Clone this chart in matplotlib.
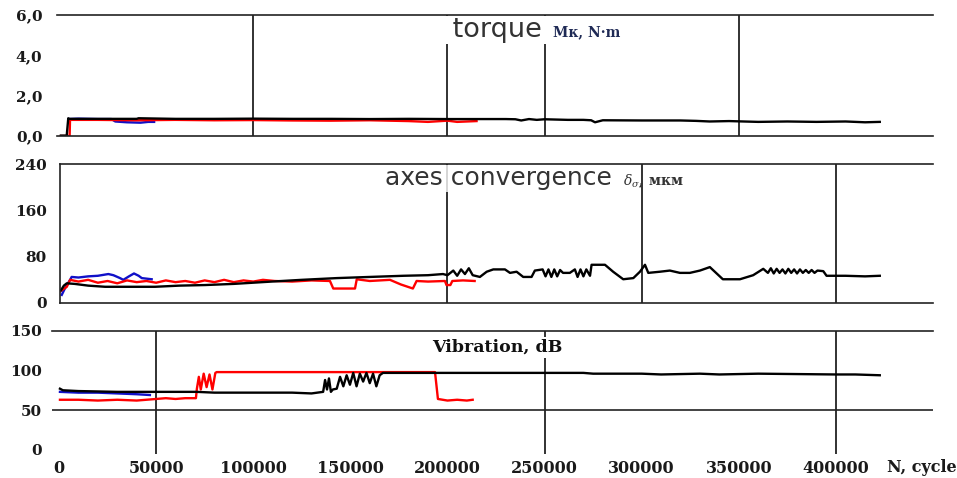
import matplotlib
matplotlib.use('Agg')
import matplotlib.pyplot as plt

plt.rcParams['mathtext.fontset'] = 'dejavuserif'

W, H = 957, 478

# --- torque, N*m ---
torque_black_x = [1000, 4000, 4800, 5000, 20000, 40000, 41000, 60000, 80000, 100000, 120000, 140000,
                  160000, 180000, 200000, 220000, 230000, 235000, 238000, 242000, 246000, 250000,
                  262000, 270000, 274000, 276000, 280000, 300000, 320000, 328000, 335000, 345000,
                  360000, 375000, 390000, 405000, 415000, 422600]
torque_black_y = [0.02, 0.02, 0.88, 0.85, 0.85, 0.85, 0.88, 0.85, 0.85, 0.86, 0.85, 0.85,
                  0.84, 0.85, 0.84, 0.84, 0.84, 0.83, 0.77, 0.84, 0.80, 0.83,
                  0.80, 0.80, 0.78, 0.68, 0.78, 0.77, 0.77, 0.75, 0.72, 0.74,
                  0.70, 0.72, 0.70, 0.72, 0.68, 0.70]
torque_red_x = [1000, 5500, 5700, 20000, 40000, 60000, 80000, 100000, 120000, 140000, 160000,
                180000, 190000, 200000, 205000, 210000, 215000]
torque_red_y = [0.0, 0.0, 0.80, 0.80, 0.78, 0.80, 0.78, 0.79, 0.77, 0.76, 0.78,
                0.74, 0.70, 0.76, 0.70, 0.72, 0.74]
torque_blue_x = [5000, 10000, 20000, 27000, 29000, 35000, 42000, 46000, 49000]
torque_blue_y = [0.84, 0.86, 0.84, 0.84, 0.72, 0.68, 0.66, 0.70, 0.70]

# --- axes convergence, mkm ---
conv_black_x = [1000, 2500, 4000, 8000, 15000, 23700, 35000, 49400, 62000, 75200, 90000, 109500,
                125000, 143000, 160000, 177300, 190000, 197700, 200000, 203000, 205000, 207000,
                209000, 211000, 213000, 216700, 220200, 223600, 229600, 232200, 235600, 239000,
                243300, 245000, 249000, 250500, 252000, 253500, 255000, 256500, 258000, 259500,
                263000, 265600, 267000, 268500, 270000, 271500, 273400, 274200, 281100, 285300,
                290500, 295700, 299100, 301700, 303400, 309400, 314500, 319700, 324800, 330000,
                335100, 341800, 350600, 357400, 362600, 365000, 366500, 368000, 369500, 371000,
                372500, 374000, 375500, 377000, 378500, 380000, 381500, 383000, 384500, 386000,
                387500, 389000, 390500, 393500, 395200, 405000, 415000, 422600]
conv_black_y = [22, 30, 34, 33, 30, 28, 28, 28, 30, 31, 33, 37,
                40, 43, 45, 47, 48, 50, 48, 56, 47, 58,
                50, 60, 48, 45, 54, 58, 58, 52, 54, 45,
                45, 56, 58, 46, 58, 45, 58, 46, 57, 52,
                52, 58, 45, 58, 46, 58, 47, 66, 66, 54,
                41, 43, 54, 66, 52, 54, 56, 52, 52, 56,
                62, 41, 41, 48, 59, 52, 60, 51, 59, 52,
                58, 51, 59, 52, 58, 51, 58, 52, 57, 52,
                57, 52, 56, 55, 47, 47, 46, 47]
conv_red_x = [500, 4000, 5700, 10000, 15000, 20000, 25000, 30000, 35000, 40000, 45000, 50000,
              55000, 60000, 65000, 70000, 75000, 80000, 85000, 90000, 95000, 100000, 105000,
              111000, 120000, 130000, 139500, 141200, 152400, 153300, 160000, 170400, 176000,
              182200, 184100, 190000, 198700, 199500, 201500, 202500, 208000, 214000]
conv_red_y = [20, 28, 40, 37, 40, 35, 38, 34, 39, 36, 38, 35,
              39, 36, 38, 35, 39, 36, 40, 36, 39, 37, 40,
              38, 37, 39, 38, 25, 25, 41, 38, 40, 32,
              25, 38, 37, 38, 31, 31, 38, 39, 38]
conv_blue_x = [1400, 3000, 5700, 6500, 10000, 15000, 20000, 25400, 28000, 31400, 33100, 36000,
               38600, 41000, 42600, 47700]
conv_blue_y = [14, 25, 40, 45, 44, 46, 47, 50, 48, 43, 40, 46,
               51, 47, 43, 41]

# --- vibration, dB ---
vib_black_x = [500, 2000, 10000, 30000, 50000, 70900, 80000, 100000, 120000, 130000, 136000,
               137000, 138000, 139000, 140000, 141000, 143000, 144700, 146400, 148100, 149800,
               151500, 153200, 154900, 156600, 158300, 160000, 161700, 163400, 165100, 166800,
               180000, 200000, 250000, 270000, 275000, 300000, 310000, 330000, 340000, 360000,
               400000, 410000, 422600]
vib_black_y = [77, 75, 74, 73, 73, 73, 72, 72, 72, 71, 73,
               88, 76, 90, 73, 76, 77, 92, 80, 94, 82,
               97, 80, 96, 86, 97, 84, 96, 80, 94, 97,
               97, 97, 97, 97, 96, 96, 95, 96, 95, 96,
               95, 95, 94]
vib_red_x = [500, 10000, 20000, 30000, 40000, 50000, 55000, 60000, 65000, 70500, 71000, 72000,
             73000, 74500, 76000, 77500, 79000, 80500, 81200, 100000, 150000, 193600, 195100,
             200000, 205000, 210000, 213000]
vib_red_y = [63, 63, 62, 63, 62, 64, 65, 64, 65, 65, 77, 92,
             76, 96, 79, 95, 76, 97, 98, 98, 98, 98, 64,
             62, 63, 62, 63]
vib_blue_x = [500, 10000, 20000, 30000, 40000, 46800]
vib_blue_y = [73, 72, 72, 71, 70, 69]

x_ticks = [0, 50000, 100000, 150000, 200000, 250000, 300000, 350000, 400000]
torque_ticks = [0, 2, 4, 6]
torque_labels = ['0,0', '2,0', '4,0', '6,0']
conv_ticks = [0, 80, 160, 240]
vib_ticks = [0, 50, 100, 150]

torque_vlines = [100000, 200000, 250000, 350000]
conv_vlines = [200000, 300000, 400000]
vib_vlines = [50000, 250000, 400000]

fig = plt.figure(figsize=(W / 100, H / 100), dpi=100)


def add_axes(left, top, right, bottom):
    return fig.add_axes([left / W, 1 - bottom / H, (right - left) / W, (bottom - top) / H])


serif = dict(family='DejaVu Serif', weight='bold', size=11.5, color='#1a1a1a')
yserif = dict(serif, size=11)
lw = 1.7

# torque panel
ax1 = add_axes(57, 15, 933, 136)
ax1.plot(torque_blue_x, torque_blue_y, color='#1010c8', lw=lw)
ax1.plot(torque_red_x, torque_red_y, color='#ff0000', lw=lw)
ax1.plot(torque_black_x, torque_black_y, color='black', lw=lw)
ax1.set_xlim(-1000, 450000)
ax1.set_ylim(0, 6)

# convergence panel
ax2 = add_axes(60, 164, 933, 303)
ax2.plot(conv_blue_x, conv_blue_y, color='#1010c8', lw=lw)
ax2.plot(conv_red_x, conv_red_y, color='#ff0000', lw=lw)
ax2.plot(conv_black_x, conv_black_y, color='black', lw=lw)
ax2.set_xlim(500, 450000)
ax2.set_ylim(0, 240)

# vibration panel
ax3 = add_axes(52, 331, 933, 453.5)
ax3.plot(vib_blue_x, vib_blue_y, color='#1010c8', lw=lw)
ax3.plot(vib_red_x, vib_red_y, color='#ff0000', lw=lw)
ax3.plot(vib_black_x, vib_black_y, color='black', lw=lw)
ax3.set_xlim(-3600, 450000)
ax3.set_ylim(-5, 150)
ax3.axhline(50, color='#222222', lw=1.2, zorder=1)

for ax, vl in [(ax1, torque_vlines), (ax2, conv_vlines), (ax3, vib_vlines)]:
    for v in vl:
        ax.axvline(v, color='#222222', lw=1.3, zorder=1)
    for s in ax.spines.values():
        s.set_color('#222222')
        s.set_linewidth(1.2)
    ax.spines['right'].set_visible(False)
    ax.tick_params(length=0)
    ax.set_facecolor('none')

ax1.spines['left'].set_visible(False)
ax3.spines['left'].set_visible(False)
ax3.spines['bottom'].set_visible(False)

ax1.set_xticks([])
ax2.set_xticks([])
ax3.set_xticks(x_ticks, [str(t) for t in x_ticks], **serif)
ax3.tick_params(axis='x', pad=5)

ax1.set_yticks(torque_ticks, torque_labels, **yserif)
ax1.tick_params(axis='y', pad=10.5)
ax2.set_yticks(conv_ticks, [str(t) for t in conv_ticks], **yserif)
ax2.tick_params(axis='y', pad=9.5)
ax3.set_yticks(vib_ticks, [str(t) for t in vib_ticks], **yserif)
ax3.tick_params(axis='y', pad=7)

fig.text(887 / W, 1 - 472.5 / H, 'N, cycle', va='baseline', ha='left', **serif)

# panel titles
fig.text(444 / W, 1 - 37 / H, ' torque ', family='DejaVu Sans', size=19.5, color='#333333',
         va='baseline', bbox=dict(fc='white', ec='none', pad=0.5))
fig.text(553 / W, 1 - 36 / H, 'Mк, N·m', family='DejaVu Serif', weight='bold', size=10,
         color='#1f2a55', va='baseline')
fig.text(385 / W, 1 - 185 / H, 'axes convergence', family='DejaVu Sans', size=18, color='#333333',
         va='baseline', bbox=dict(fc='white', ec='none', alpha=0.8, pad=1))
fig.text(623 / W, 1 - 185 / H, r'$\delta_{\sigma}$, мкм', family='DejaVu Serif', weight='bold',
         size=10, color='#333333', va='baseline')
fig.text(432 / W, 1 - 352 / H, 'Vibration, dB', family='DejaVu Serif', weight='bold', size=12.5,
         color='#111111', va='baseline', bbox=dict(fc='white', ec='none', pad=1.5))

fig.savefig('out.png', dpi=100)
plt.close(fig)
